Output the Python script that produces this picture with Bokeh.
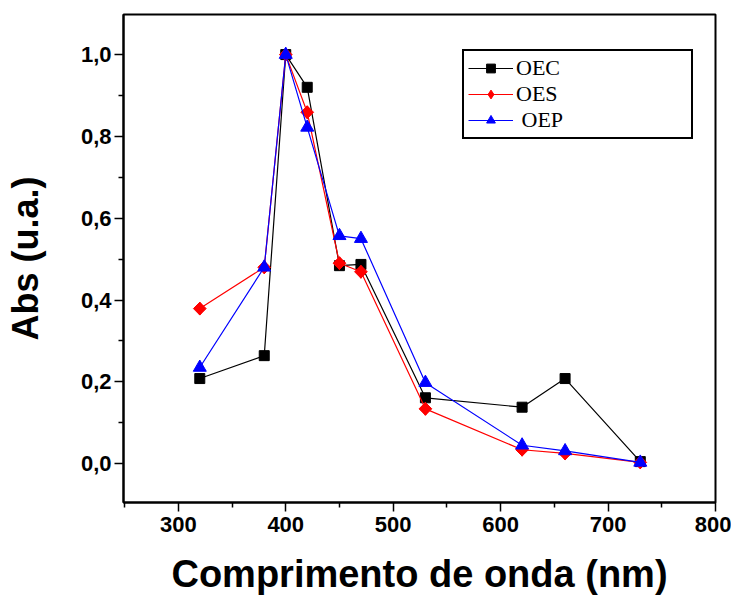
import math
from bokeh.plotting import figure
from bokeh.models import Range1d, FixedTicker, CustomJSTickFormatter, Legend, LegendItem
from bokeh.embed import file_html
from bokeh.resources import INLINE

wavelength = [320, 380, 400, 420, 450, 470, 530, 620, 660, 730]
oec = [0.208, 0.264, 1.0, 0.92, 0.484, 0.487, 0.161, 0.138, 0.208, 0.005]
oes = [0.379, 0.48, 1.0, 0.859, 0.49, 0.469, 0.134, 0.034, 0.025, 0.003]
oep = [0.235, 0.48, 1.0, 0.822, 0.557, 0.55, 0.198, 0.045, 0.031, 0.003]

x_ticks = [300, 400, 500, 600, 700, 800]
x_minor = [250, 350, 450, 550, 650, 750]
y_ticks = [0.0, 0.2, 0.4, 0.6, 0.8, 1.0]
y_minor = [0.1, 0.3, 0.5, 0.7, 0.9]

p = figure(width=731, height=606, output_backend="svg", toolbar_location=None,
           x_range=Range1d(249, 800), y_range=Range1d(-0.095, 1.098),
           min_border_left=123, min_border_right=16, min_border_top=14, min_border_bottom=104)
p.grid.visible = False
p.background_fill_color = "white"
p.border_fill_color = "white"
p.outline_line_color = "black"
p.outline_line_alpha = 1
p.outline_line_width = 2

p.xaxis.ticker = FixedTicker(ticks=x_ticks, minor_ticks=x_minor)
p.yaxis.ticker = FixedTicker(ticks=y_ticks, minor_ticks=y_minor)
p.yaxis.formatter = CustomJSTickFormatter(code="return tick.toFixed(1).replace('.', ',');")

for ax in (p.xaxis[0], p.yaxis[0]):
    ax.axis_line_width = 2
    ax.axis_line_color = "black"
    ax.major_tick_in = 0
    ax.major_tick_out = 9
    ax.minor_tick_in = 0
    ax.minor_tick_out = 5
    ax.major_tick_line_width = 1.5
    ax.minor_tick_line_width = 1.5
    ax.major_tick_line_color = "black"
    ax.minor_tick_line_color = "black"
    ax.major_label_text_font = "Liberation Sans"
    ax.major_label_text_font_style = "bold"
    ax.major_label_text_font_size = "22px"
    ax.major_label_text_color = "black"
    ax.axis_label_text_font = "Liberation Sans"
    ax.axis_label_text_font_style = "bold"
    ax.axis_label_text_color = "black"

p.xaxis.axis_label = "Comprimento de onda (nm)"
p.yaxis.axis_label = "Abs (u.a.)"
p.xaxis.axis_label_text_font_size = "38px"
p.yaxis.axis_label_text_font_size = "36px"
p.xaxis.major_label_standoff = 5
p.yaxis.major_label_standoff = 3
p.xaxis.axis_label_standoff = 18
p.yaxis.axis_label_standoff = 32

l1 = p.line(wavelength, oec, color="black", line_width=1.2)
m1 = p.scatter(wavelength, oec, marker="square", size=10, color="black")
l2 = p.line(wavelength, oes, color="red", line_width=1.2)
m2_key = p.scatter(wavelength, oes, marker="diamond", size=13, color="red")
m2 = p.scatter(wavelength, oes, marker="square", angle=math.pi / 4, size=9, color="red")
l3 = p.line(wavelength, oep, color="blue", line_width=1.2)
m3 = p.scatter(wavelength, oep, marker="triangle", size=13, color="blue")

legend = Legend(items=[LegendItem(label="OEC", renderers=[l1, m1]),
                       LegendItem(label="OES", renderers=[l2, m2_key]),
                       LegendItem(label=" OEP", renderers=[l3, m3])],
                location=(339, 363))
legend.border_line_color = "black"
legend.border_line_alpha = 1
legend.border_line_width = 2
legend.background_fill_alpha = 1
legend.label_text_font = "Liberation Serif"
legend.label_text_font_size = "22px"
legend.label_text_color = "black"
legend.glyph_width = 45
legend.glyph_height = 22
legend.label_height = 22
legend.label_standoff = 3
legend.label_width = 171
legend.spacing = 0
legend.padding = 4
legend.margin = 0
p.add_layout(legend, "center")

open("out.html", "w").write(file_html(p, INLINE))
